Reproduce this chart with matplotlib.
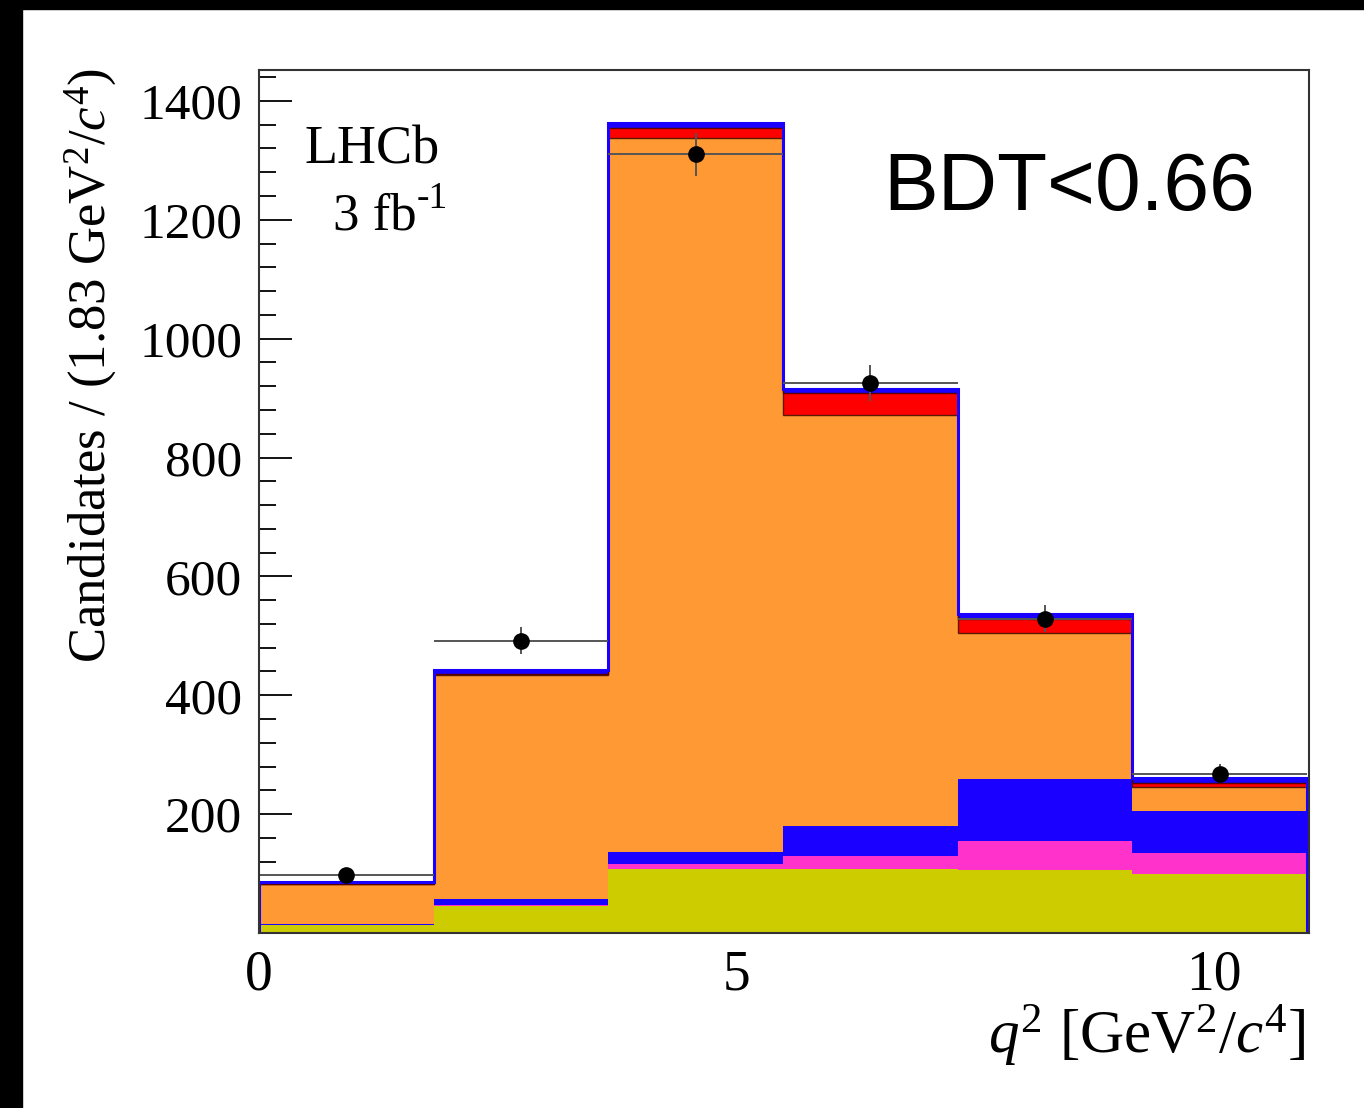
import numpy as np
import matplotlib
matplotlib.use("Agg")
import matplotlib.pyplot as plt
from matplotlib.patches import Rectangle
from matplotlib.ticker import MultipleLocator

# ---- data ----
bin_edges = [0.0, 1.83, 3.66, 5.49, 7.32, 9.15, 10.98]
comp_yellow = [13, 46, 107, 107, 106, 100]
comp_magenta = [1, 1, 9, 23, 49, 34]
comp_blue = [1, 11, 21, 50, 104, 72]
comp_orange = [67, 376, 1200, 692, 245, 39]
comp_red = [0, 1, 18, 36, 24, 7]
comp_top = [4, 8, 7, 8, 8, 8]
data_counts = [98, 492, 1310, 925, 529, 268]
yticks = [200, 400, 600, 800, 1000, 1200, 1400]
xticks = [0, 5, 10]

plt.rcParams['mathtext.fontset'] = 'custom'
plt.rcParams['mathtext.rm'] = 'Liberation Serif'
plt.rcParams['mathtext.it'] = 'Liberation Serif:italic'
plt.rcParams['font.family'] = 'Liberation Serif'

W, H = 1364, 1108
fig = plt.figure(figsize=(W / 100, H / 100), dpi=100)
fig.patch.set_facecolor('white')
# black borders of the screenshot
fig.patches.append(Rectangle((0, 0), 22 / W, 1, transform=fig.transFigure, color='black', zorder=0))
fig.patches.append(Rectangle((0, 1 - 9 / H), 1, 9 / H, transform=fig.transFigure, color='black', zorder=0))

ax = fig.add_axes([259 / W, 1 - 933 / H, (1309 - 259) / W, (933 - 70) / H])

edges = np.array(bin_edges)
layers = [
    (comp_yellow, '#cccc00'),
    (comp_magenta, '#ff33cc'),
    (comp_blue, '#1a00ff'),
    (comp_orange, '#ff9933'),
    (comp_red, '#ff0000'),
    (comp_top, '#1a00ff'),
]
base = np.zeros(len(comp_yellow))
tops = {}
for i, (vals, col) in enumerate(layers):
    v = np.array(vals, dtype=float)
    ax.stairs(base + v, edges, baseline=base, fill=True, color=col, lw=0, zorder=2 + i * 0.01)
    base = base + v
    tops[i] = base.copy()

# dark outlines at orange and red tops
ax.stairs(tops[3], edges, baseline=0, fill=False, color='#5a1a00', lw=1.0, zorder=3)
ax.stairs(tops[4], edges, baseline=0, fill=False, color='#5a0000', lw=1.0, zorder=3)
# total outline in blue
ax.stairs(tops[5], edges, baseline=0, fill=False, color='#1a00ff', lw=2.2, zorder=3.5)

# data
centers = 0.5 * (edges[:-1] + edges[1:])
halfw = 0.5 * (edges[1:] - edges[:-1])
d = np.array(data_counts, dtype=float)
ax.errorbar(centers, d, xerr=halfw, yerr=np.sqrt(d), fmt='o', color='black', ecolor='#555555',
            elinewidth=1.4, markersize=11, capsize=0, zorder=5)

ax.set_xlim(0, 11.0)
ax.set_ylim(0, 1452)
ax.set_yticks(yticks)
ax.set_xticks(xticks)
ax.yaxis.set_minor_locator(MultipleLocator(40))
ax.xaxis.set_minor_locator(MultipleLocator(1))
ax.tick_params(axis='y', which='major', direction='in', length=23.5, width=1.3, labelsize=37, pad=12, colors='black')
ax.tick_params(axis='y', which='minor', direction='in', length=12, width=1.3)
ax.tick_params(axis='x', which='major', direction='in', length=17, width=1.3, labelsize=40, pad=12)
ax.tick_params(axis='x', which='minor', direction='in', length=8.5, width=1.3)
ax.tick_params(top=False, right=False, which='both')
for s in ax.spines.values():
    s.set_linewidth(1.5)
    s.set_color('#333333')
    s.set_zorder(6)

fig.text(91 / W, 1 - 68 / H, 'Candidates / (1.83 GeV$^{2}$/$c^{4}$)', rotation=90,
         ha='center', va='top', fontsize=38)
fig.text(1305 / W, 1 - 1036 / H, '$q^{2}$ [GeV$^{2}$/$c^{4}$]', ha='right', va='center', fontsize=44)
fig.text(305 / W, 1 - 163 / H, 'LHCb', ha='left', va='baseline', fontsize=39)
fig.text(333 / W, 1 - 229 / H, '3 fb', ha='left', va='baseline', fontsize=38)
fig.text(417 / W, 1 - 208 / H, '-1', ha='left', va='baseline', fontsize=27)
fig.text(883 / W, 1 - 210 / H, 'BDT<0.66', ha='left', va='baseline', fontsize=59,
         family='Liberation Sans')

fig.savefig('out.png', dpi=100)
